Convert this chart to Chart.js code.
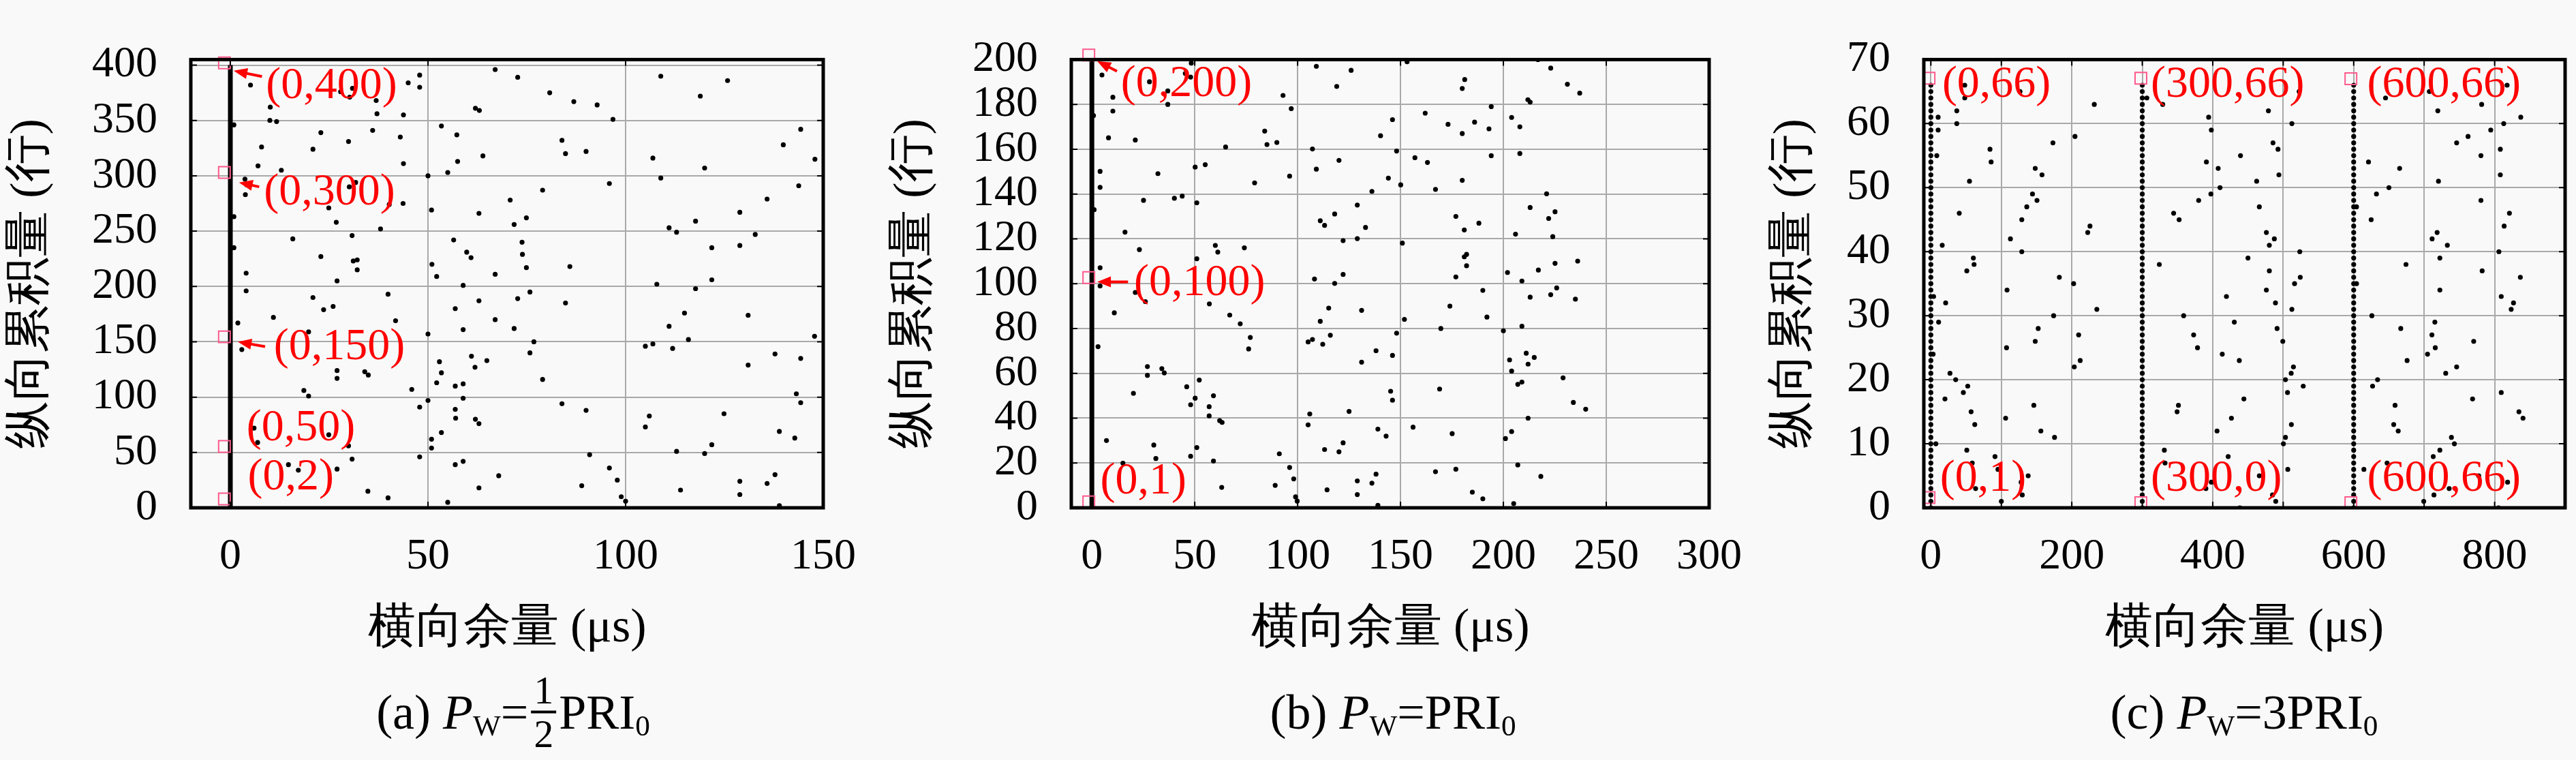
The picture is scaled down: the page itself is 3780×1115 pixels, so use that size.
<!DOCTYPE html>
<html>
<head>
<meta charset="utf-8">
<script src="https://cdn.jsdelivr.net/npm/chart.js@4.4.1/dist/chart.umd.min.js"></script>
<style>
    html, body { margin: 0; padding: 0; background: #f9f9f9; }
    #page { position: relative; width: 3780px; height: 1115px; overflow: hidden; }
    #page canvas { position: absolute; top: 0; }
    .caption {
        position: absolute; top: 1045px; transform: translate(-50%, -50%);
        font-family: 'Liberation Serif', serif; font-size: 72px; color: #000; white-space: nowrap;
        display: flex; align-items: center;
    }
    .caption sub { font-size: 0.6em; position: relative; top: 0.45em; line-height: 0; }
    .caption .frac { display: inline-flex; flex-direction: column; align-items: center; font-size: 0.8em; line-height: 1.05; margin: 0 4px; }
    .caption .frac span:last-child { border-top: 4px solid #000; padding: 0 4px; }
</style>
</head>
<body>
<div id="page">
    <canvas id="chart-a" width="1290" height="1115" style="left:0px"></canvas>
    <canvas id="chart-b" width="1300" height="1115" style="left:1290px"></canvas>
    <canvas id="chart-c" width="1220" height="1115" style="left:2560px"></canvas>
    <div class="caption" style="left:753px">(a)&nbsp;<i>P</i><sub>W</sub>=<span class="frac"><span>1</span><span>2</span></span>PRI<sub>0</sub></div>
    <div class="caption" style="left:2044px">(b)&nbsp;<i>P</i><sub>W</sub>=PRI<sub>0</sub></div>
    <div class="caption" style="left:3293px">(c)&nbsp;<i>P</i><sub>W</sub>=3PRI<sub>0</sub></div>
</div>
<script>
// ---- axis texts and ticks ----
const xTitle = '横向余量 (μs)';
const yTitle = '纵向累积量 (行)';

const xGridA = [0, 50, 100, 150];
const xLabelsA = [0, 50, 100, 150];
const yTicksA = [0, 50, 100, 150, 200, 250, 300, 350, 400];

const xGridB = [0, 50, 100, 150, 200, 250, 300];
const xLabelsB = [0, 50, 100, 150, 200, 250, 300];
const yTicksB = [0, 20, 40, 60, 80, 100, 120, 140, 160, 180, 200];

const xGridC = [0, 100, 200, 300, 400, 500, 600, 700, 800];
const xLabelsC = [0, 200, 400, 600, 800];
const yTicksC = [0, 10, 20, 30, 40, 50, 60, 70];

// ---- panel (a) ----
const zeroLineA = [[0, 0], [0, 400]];
const dotsA = [
    [2.9,394],[5.1,382],[10.1,362],[10.0,350],[11.7,349],[27.9,376],[30.9,379],[30.2,371],[36.9,368],[37.1,356],
    [36.0,341],[45.0,384],[47.9,391],[47.9,380],[43.8,355],[43.0,335],[43.8,311],[43.7,275],[40.2,274],[38.0,252],
    [29.9,331],[22.9,339],[20.9,324],[7.9,326],[7.0,309],[12.9,305],[3.7,297],[4.1,292],[3.8,283],[30.1,290],
    [31.7,294],[24.9,271],[26.8,258],[30.8,246],[15.8,243],[0.9,263],[0.9,235],[22.9,227],[31.1,223],[32.1,224],
    [32.1,215],[4.0,212],[4.0,196],[27.0,205],[20.9,190],[26.0,182],[23.6,179],[39.9,193],[41.8,169],[1.9,167],
    [10.9,172],[19.8,159],[2.9,143],[27.0,124],[27.0,117],[34.0,123],[34.9,120],[18.6,106],[19.8,101],[45.9,107],
    [47.9,91],[6.0,72],[6.9,59],[24.9,66],[29.9,56],[30.8,44],[14.7,39],[17.2,34],[27.0,35],[34.8,15],
    [39.9,9],[47.9,46],[0.9,346],
    [67.0,396],[72.7,389],[80.8,375],[86.9,367],[92.8,364],[96.8,351],[62.0,361],[63.0,359],[53.4,345],[57.3,337],
    [55.0,303],[50.0,300],[57.5,313],[63.9,318],[83.9,332],[84.8,320],[90.0,322],[95.9,293],[79.0,287],[70.8,278],
    [74.9,262],[71.8,256],[62.9,266],[50.9,269],[56.5,242],[59.8,231],[60.9,226],[73.8,240],[73.9,229],[74.9,217],
    [67.0,211],[51.0,220],[52.2,209],[85.9,218],[58.9,201],[75.8,195],[72.7,189],[62.9,187],[84.8,185],[56.9,180],
    [67.0,170],[71.8,162],[58.9,161],[50.0,157],[76.8,150],[75.8,140],[61.0,137],[64.9,133],[52.9,132],[61.9,127],
    [53.4,122],[52.2,113],[56.9,110],[58.9,112],[79.0,116],[58.9,99],[50.0,97],[56.9,89],[57.0,81],[62.0,80],
    [62.9,76],[83.9,94],[90.0,88],[53.4,68],[50.9,62],[50.9,54],[58.9,42],[56.9,39],[67.9,29],[62.9,18],
    [55.0,5],[90.9,48],[95.9,36],[97.9,25],[88.9,20],[98.9,10],[100.0,6],
    [108.9,390],[125.8,386],[118.9,372],[144.3,342],[139.9,328],[147.9,315],[106.9,316],[108.9,298],[120.0,307],[143.8,291],
    [135.8,279],[128.9,267],[117.7,259],[111.0,253],[112.9,249],[132.8,247],[121.8,235],[128.9,237],[121.8,206],[107.9,202],
    [117.7,198],[131.0,174],[114.9,176],[111.0,164],[115.9,152],[105.0,146],[106.9,148],[111.9,144],[147.8,155],[131.0,129],
    [137.8,139],[144.3,135],[143.2,103],[144.3,95],[124.9,85],[106.0,83],[105.0,73],[138.9,69],[142.8,63],[112.9,51],
    [121.8,57],[120.0,49],[137.8,30],[135.8,22],[128.9,24],[128.9,12],[113.9,16],[138.9,2]
];
const marksA = [[-1.5, 402], [-1.5, 303], [-1.5, 154.5], [-1.5, 55.4], [-1.5, 8]];
const notesA = [
    { text: '(0,400)', x: 9, y: 381 },
    { text: '(0,300)', x: 8.5, y: 285 },
    { text: '(0,150)', x: 11, y: 145 },
    { text: '(0,50)', x: 4.1, y: 71.6 },
    { text: '(0,2)', x: 4.4, y: 27 }
];
const arrowsA = [[8.0, 389.7, 0.85, 394.9], [7.3, 290, 2.2, 294], [8.8, 145.6, 1.9, 150]];

// ---- panel (b) ----
const zeroLineB = [[0, 0], [0, 200]];
const dotsB = [
    [4.9,193.1],[10.2,183.2],[10.2,177],[0.8,175],[28,190.1],[36.9,186],[36.9,180],[45.4,193.8],[48,192.2],[48.3,198.4],
    [8.1,165.1],[21.1,164.1],[4,150.1],[4,143],[32.1,149.1],[50.2,152],[55.1,153.1],[65,161],[25.1,137.2],[40.1,138.1],
    [43.9,139.1],[51,136.1],[1.1,133],[16.1,123],[23.1,115.2],[60,117.1],[61.2,114.1],[74.1,116],[51,111.1],[4,107.1],
    [4,99],[21.1,96.1],[26,92],[10.9,87],[57.1,91],[67,86],[72.1,82.1],[77,76],[76.2,70.9],[3,71.9],
    [27,63],[27,59.1],[34,62.1],[35.2,60.2],[52.2,57],[20.2,51.1],[46.1,54],[50.2,48.9],[48,46],[59.1,50],
    [57,45.1],[57,41],[62.1,38.9],[63.3,38.1],[7.1,30],[30.1,28],[31.1,22],[51,26.9],[48,23],[59.1,20.9],
    [15.1,19.9],[63.1,9.1],
    [109.1,197],[126,195.2],[119,188],[92.9,184],[96.9,178.1],[84,168.1],[85.1,162.1],[89.9,163],[107.2,160.1],[109.1,151.1],
    [120.1,155],[96.1,148],[79.1,145],[146.1,173.2],[140.3,166],[148.1,159.2],[144.1,147.1],[150.1,144.1],[136.1,141.2],[129,135.1],
    [118,131.1],[111,128.1],[113.1,126],[133,125.1],[122.1,119.2],[129,120.1],[150.9,118.1],[108.2,102.1],[118,100.1],[122.1,104.1],
    [115.1,89.1],[131.1,88.1],[111,83.2],[151.9,84.1],[115.9,77],[105.1,74],[107.2,75.1],[112.2,73],[148.1,77.9],[138.1,70.1],
    [146.1,68],[131.1,65],[145.2,52],[146.1,48],[125,43],[105.9,41.9],[105.1,37],[139,35.1],[143,32],[156.1,36],
    [122.1,29],[113.1,26],[120.1,25],[91.1,24.1],[96.1,18],[98.1,12.9],[89.1,10],[99,4.9],[99.8,3],[114.3,8],
    [129,12],[129,5.9],[136.1,11],[138.1,15],[139,1.1],[153.2,199],[162,176.1],[157,156.2],[163.1,154.1],[167,142.1],
    [169.6,80],[169,53],[167,16.1],
    [181.2,191.1],[180,187.1],[194.1,179],[173.1,171.1],[186,172.1],[193,169.1],[180,167],[194.1,157.1],[180,146.1],[176.9,130],
    [188.1,127],[181,124],[182.1,113.1],[181,112],[182.1,108],[176.9,103],[190,97],[174,90],[192,85.1],[200,79],
    [175.1,33.1],[176.9,17.2],[184.9,7],[190,4],
    [216.8,200],[223,196.2],[231.1,189],[237.1,185],[211.9,182.1],[213,181],[204,174.2],[208,170],[208,158.1],[221,140.1],
    [213,134],[225.1,132.1],[222,129.1],[205.9,122.1],[224,121],[225.1,109.1],[236.1,110.1],[217,106.1],[202,105],[209,101.2],
    [225.9,98.1],[223,95.1],[213,94],[235,93.1],[209,81],[211.1,69],[215,67.1],[203,66],[212,64.1],[204,61],
    [229,58],[209,56.1],[207,55.1],[234,47],[240,44],[212,40],[204,34],[201,30.9],[207,19.1],[218.2,14],
    [205,1.9]
];
const marksB = [[-1.5, 202], [-1.5, 102.7], [-1.5, 2.7]];
const notesB = [
    { text: '(0,200)', x: 14.1, y: 189 },
    { text: '(0,100)', x: 20.5, y: 100.3 },
    { text: '(0,1)', x: 4.1, y: 11.7 }
];
const arrowsB = [[12.2, 194.8, 2.6, 199.3], [17.6, 100.8, 2.6, 100.8]];

// ---- panel (c) ----
const rowsC = [
    0, 1, 2, 3, 4, 5, 6, 7, 8, 9, 10, 11, 12, 13, 14, 15, 16, 17, 18, 19, 20, 21, 22,
    23, 24, 25, 26, 27, 28, 29, 30, 31, 32, 33, 34, 35, 36, 37, 38, 39, 40, 41, 42, 43, 44,
    45, 46, 47, 48, 49, 50, 51, 52, 53, 54, 55, 56, 57, 58, 59, 60, 61, 62, 63, 64, 65, 66
];
const columnsC = [0, 300, 600];
const dotsC = [
    [48.1,66],[126.5,65],[48.1,64],[231.9,63],[36.8,62],[10.3,61],[36.8,60],[10.3,59],[204.5,58],[173.2,57],
    [83.9,56],[8.4,55],[85.5,54],[148.1,53],[157.7,52],[54.8,51],[144.2,49],[150.6,48],[136.1,47],[40.3,46],
    [129,45],[225.8,44],[222.6,43],[112.9,42],[16.1,41],[129,40],[60.3,39],[61.3,38],[51,37],[182.3,36],
    [202.6,35],[108.1,34],[3.9,33],[21,32],[235.5,31],[174.2,30],[11,29],[152.3,28],[209.7,27],[148.1,26],
    [107.4,25],[3.2,24],[211.9,23],[203.5,22],[27.1,21],[35.2,20],[52.3,19],[46.1,18],[20,17],[146.1,16],
    [57.1,15],[106.1,14],[62.3,13],[156.1,12],[175.5,11],[7.1,10],[51,9],[91,8],[58.7,7],[95.2,6],
    [138.1,5],[128.1,4],[63.5,3],[129.7,2],[100,1],
    [522.6,65],[306.5,64],[329,63],[479,62],[394.2,61],[512.3,60],[398,59],[485.5,57],[492.6,56],[439.4,55],
    [391,54],[407.7,53],[493.9,52],[462.3,51],[410.3,50],[397.4,49],[380,48],[466.1,47],[344.5,46],[352.3,45],
    [476.1,43],[487.4,42],[480.3,41],[523.5,40],[450,39],[324.2,38],[480.3,37],[524.2,36],[516.1,35],[476.1,34],
    [419.4,33],[489,32],[512.3,31],[358.7,30],[430.6,29],[491.3,28],[372.9,27],[499.4,26],[378.4,25],[413.5,24],
    [437.7,23],[514.5,22],[511.3,21],[503.2,20],[528.4,19],[506.1,18],[444.2,17],[351.3,16],[349.4,15],[426.5,14],
    [511.6,13],[406.1,12],[503.2,11],[500.3,10],[331.3,9],[421.9,8],[332.3,7],[506.5,6],[466.1,5],[398,4],
    [390.3,3],[484.8,2],[489.4,1],[438.4,0],
    [817.7,66],[707.4,65],[645.2,64],[781.6,63],[719.4,62],[837.1,61],[812.9,60],[794.5,59],[762.3,58],[746.1,57],
    [808.1,56],[780.6,55],[621,54],[665.2,53],[808.1,52],[720.3,51],[650,50],[632.3,49],[780.6,48],[604,47],
    [821,46],[624.8,45],[813.5,44],[718.4,43],[711.3,42],[732.9,41],[806.1,40],[722.3,39],[674.2,38],[782.3,37],
    [836.5,36],[604,35],[722.3,34],[809.4,33],[826.8,32],[823.5,31],[625.8,30],[715.2,29],[666.8,28],[711,27],
    [770.3,26],[715.8,25],[704.8,24],[675.8,23],[746.1,22],[730.6,21],[633.9,20],[626.8,19],[809.4,18],[768.7,17],
    [658.7,16],[834.5,15],[840.3,14],[656.8,13],[663.2,12],[738.7,11],[742.9,10],[722.3,9],[712.9,8],[647.4,7],
    [614.5,6],[777.4,5],[818.4,4],[735.5,3],[713.9,2],[699.4,1],[805.5,0]
];
const marksC = [[-2.6, 67.1], [298, 67.1], [596, 67], [-2.6, 1.6], [298, 0.8], [596, 0.8]];
const notesC = [
    { text: '(0,66)', x: 16, y: 66 },
    { text: '(300,66)', x: 312, y: 66 },
    { text: '(600,66)', x: 619, y: 66 },
    { text: '(0,1)', x: 13, y: 4.5 },
    { text: '(300,0)', x: 312, y: 4.5 },
    { text: '(600,66)', x: 619, y: 4.5 }
];
const arrowsC = [];

// ---- drawing ----
const serif = "'Liberation Serif', serif";
const gridColor = '#a9a9a9';
const markColor = '#ff5a8c';
const noteColor = '#ff0000';
const charts = [];

const toPoints = pairs => pairs.map(p => ({ x: p[0], y: p[1] }));

// black frame round the plot area, with small inward ticks
const framePlugin = {
    id: 'frame',
    afterDatasetsDraw(chart) {
        const { ctx, chartArea: a, scales } = chart;
        ctx.save();
        ctx.strokeStyle = '#000';
        ctx.lineWidth = 2;
        ctx.beginPath();
        scales.y.ticks.forEach(t => {
            const py = scales.y.getPixelForValue(t.value);
            ctx.moveTo(a.left, py); ctx.lineTo(a.left + 9, py);
            ctx.moveTo(a.right, py); ctx.lineTo(a.right - 9, py);
        });
        scales.x.ticks.forEach(t => {
            const px = scales.x.getPixelForValue(t.value);
            ctx.moveTo(px, a.bottom); ctx.lineTo(px, a.bottom - 9);
            ctx.moveTo(px, a.top); ctx.lineTo(px, a.top + 9);
        });
        ctx.stroke();
        ctx.lineWidth = 5;
        ctx.strokeRect(a.left, a.top, a.right - a.left, a.bottom - a.top);
        ctx.restore();
    }
};

function makeNotePlugin(notes, arrows) {
    return {
        id: 'notes',
        afterDatasetsDraw(chart) {
            const { ctx, scales: { x, y } } = chart;
            ctx.save();
            ctx.fillStyle = noteColor;
            ctx.strokeStyle = noteColor;
            ctx.font = '66px ' + serif;
            ctx.textAlign = 'left';
            ctx.textBaseline = 'middle';
            notes.forEach(n => ctx.fillText(n.text, x.getPixelForValue(n.x), y.getPixelForValue(n.y)));
            arrows.forEach(ar => {
                const x1 = x.getPixelForValue(ar[0]), y1 = y.getPixelForValue(ar[1]);
                const x2 = x.getPixelForValue(ar[2]), y2 = y.getPixelForValue(ar[3]);
                const ang = Math.atan2(y2 - y1, x2 - x1);
                ctx.lineWidth = 4;
                ctx.beginPath();
                ctx.moveTo(x1, y1);
                ctx.lineTo(x2 - 14 * Math.cos(ang), y2 - 14 * Math.sin(ang));
                ctx.stroke();
                ctx.beginPath();
                ctx.moveTo(x2, y2);
                ctx.lineTo(x2 - 20 * Math.cos(ang) + 8 * Math.sin(ang), y2 - 20 * Math.sin(ang) - 8 * Math.cos(ang));
                ctx.lineTo(x2 - 20 * Math.cos(ang) - 8 * Math.sin(ang), y2 - 20 * Math.sin(ang) + 8 * Math.cos(ang));
                ctx.closePath();
                ctx.fill();
            });
            ctx.restore();
        }
    };
}

function makePanel(id, p) {
    const datasets = [];
    datasets.push({
        data: toPoints(p.marks), pointStyle: 'rect', pointRadius: 12, borderWidth: 2,
        borderColor: markColor, backgroundColor: 'rgba(0,0,0,0)', clip: false, order: 1
    });
    datasets.push({
        data: toPoints(p.dots), pointRadius: 3.6, borderWidth: 0,
        backgroundColor: '#000', borderColor: '#000', order: 2
    });
    if (p.zeroLine) {
        datasets.push({
            type: 'line', data: toPoints(p.zeroLine), borderColor: '#000', borderWidth: 7,
            pointRadius: 0, fill: false, order: 3
        });
    }
    (p.columns || []).forEach(cx => {
        datasets.push({
            data: p.rows.map(r => ({ x: cx, y: r })), pointRadius: 3.6, borderWidth: 0,
            backgroundColor: '#000', order: 3
        });
    });

    return new Chart(document.getElementById(id), {
        type: 'scatter',
        data: { datasets },
        plugins: [framePlugin, makeNotePlugin(p.notes, p.arrows)],
        options: {
            responsive: false,
            devicePixelRatio: 1,
            animation: false,
            events: [],
            layout: { padding: { left: 0, top: 40, right: p.padRight, bottom: 0 } },
            plugins: { legend: { display: false }, tooltip: { enabled: false } },
            scales: {
                x: {
                    type: 'linear', min: p.xMin, max: p.xMax,
                    afterBuildTicks: s => { s.ticks = p.xGrid.map(v => ({ value: v })); },
                    afterFit: s => { s.height = 370; },
                    ticks: {
                        autoSkip: false, maxRotation: 0, padding: 34, color: '#000',
                        font: { family: serif, size: 64 },
                        callback: v => p.xLabels.includes(v) ? String(v) : ''
                    },
                    grid: { color: gridColor, lineWidth: 2, drawTicks: false },
                    border: { display: false },
                    title: {
                        display: true, text: xTitle, color: '#000',
                        font: { family: serif, size: 70 }, padding: { top: 0, bottom: 150 }
                    }
                },
                y: {
                    type: 'linear', min: 0, max: p.yMax,
                    afterBuildTicks: s => { s.ticks = p.yTicks.map(v => ({ value: v })); },
                    afterFit: s => { s.width = p.axisWidth; },
                    ticks: {
                        autoSkip: false, padding: 49, color: '#000',
                        font: { family: serif, size: 64 }
                    },
                    grid: { color: gridColor, lineWidth: 2, drawTicks: false },
                    border: { display: false },
                    title: {
                        display: true, text: yTitle, color: '#000',
                        font: { family: serif, size: 70 }, padding: { top: p.titlePad, bottom: 0 }
                    }
                }
            }
        }
    });
}

charts.push(makePanel('chart-a', {
    dots: dotsA, marks: marksA, notes: notesA, arrows: arrowsA, zeroLine: zeroLineA,
    xMin: -10, xMax: 150, yMax: 405, xGrid: xGridA, xLabels: xLabelsA, yTicks: yTicksA,
    axisWidth: 280, padRight: 64, titlePad: 3
}));
charts.push(makePanel('chart-b', {
    dots: dotsB, marks: marksB, notes: notesB, arrows: arrowsB, zeroLine: zeroLineB,
    xMin: -10, xMax: 300, yMax: 200, xGrid: xGridB, xLabels: xLabelsB, yTicks: yTicksB,
    axisWidth: 282, padRight: 73, titlePad: 9
}));
charts.push(makePanel('chart-c', {
    dots: dotsC, marks: marksC, notes: notesC, arrows: arrowsC, rows: rowsC, columns: columnsC,
    xMin: -10, xMax: 900, yMax: 70, xGrid: xGridC, xLabels: xLabelsC, yTicks: yTicksC,
    axisWidth: 263, padRight: 16, titlePad: 30
}));

// redraw once the local fonts are ready
Promise.all([
    document.fonts.load('64px "Liberation Serif"'),
    document.fonts.load('70px serif', '纵向累积量行横余')
]).then(() => charts.forEach(c => c.update()));
</script>
</body>
</html>
